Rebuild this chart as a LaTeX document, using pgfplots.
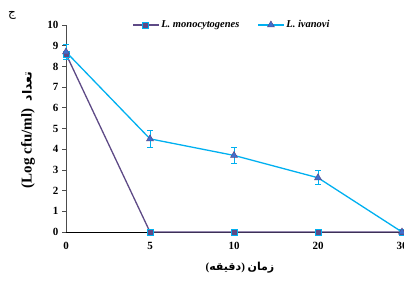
\documentclass[border=0pt]{standalone}
\usepackage{pgfplots}
\pgfplotsset{compat=1.18}
\usepackage{fontspec}
\setmainfont{Liberation Serif}
\newfontfamily\arabicfont[Script=Arabic]{DejaVu Sans}
\TeXXeTstate=1
\definecolor{mono}{HTML}{5E4A86}
\definecolor{ivan}{HTML}{00B0F0}
\definecolor{tri}{HTML}{3F6FD0}
\begin{document}
\begin{tikzpicture}[x=1pt,y=1pt]
\begin{axis}[
  at={(0,0)}, anchor=origin,
  scale only axis, width=336pt, height=207pt,
  xmin=0, xmax=4, ymin=0, ymax=10,
  axis lines=left, axis line style={-, line width=0.8pt},
  x axis line style={black}, y axis line style={black!70},
  xtick={0,1,2,3,4}, xticklabels={0,5,10,20,30},
  ytick={0,1,...,10},
  xtick style={draw=none},
  ytick style={black!70, line width=0.6pt},
  tick align=outside, major tick length=4pt,
  /pgf/number format/assume math mode=true,
  ticklabel style={font=\bfseries\fontsize{11}{12}\selectfont},
  xticklabel style={yshift=-3pt},
  clip=false,
  legend columns=2,
  legend style={at={(0.494,1)}, anchor=center, draw=none, fill=none,
    font=\bfseries\itshape\fontsize{10.5}{12}\selectfont,
    /tikz/every even column/.append style={column sep=16pt}},
  legend image code/.code={\draw[mark repeat=2,mark phase=2] plot coordinates {(0cm,0cm) (0.45cm,0cm) (0.9cm,0cm)};},
]
\addplot[color=mono, line width=1.3pt, mark=square*, mark size=3pt,
  mark options={fill=mono, draw=ivan, line width=0.8pt}]
  coordinates {(0,8.6) (1,0) (2,0) (3,0) (4,0)};
\addlegendentry{L. monocytogenes}
\addplot[color=ivan, line width=1.3pt, mark=triangle*, mark size=4pt,
  mark options={fill=tri, draw=mono, line width=0.5pt},
  error bars/.cd, y dir=both, y explicit,
  error bar style={color=ivan, line width=0.9pt}, error mark options={rotate=90, mark size=3pt, color=ivan, line width=0.9pt}]
  coordinates {(0,8.7) +- (0,0.35) (1,4.5) +- (0,0.42) (2,3.7) +- (0,0.37) (3,2.62) +- (0,0.33) (4,0) +- (0,0)};
\addlegendentry{L. ivanovi}
\end{axis}
\node[rotate=90, font=\bfseries\fontsize{15}{16}\selectfont] at (-38,102)
  {(Log cfu/ml)\ \ {\arabicfont\fontsize{12.5}{13}\selectfont\beginR تعداد\endR}};
\node[font=\bfseries\fontsize{11}{12}\selectfont] at (174,-36)
  {({\arabicfont\beginR دقیقه\endR})\ {\arabicfont\beginR زمان\endR}};
\node[font=\fontsize{12}{13}\selectfont] at (-54,217) {\arabicfont ج};
\pgfresetboundingbox
\useasboundingbox (-66,-49) rectangle (338,232);
\end{tikzpicture}
\end{document}
